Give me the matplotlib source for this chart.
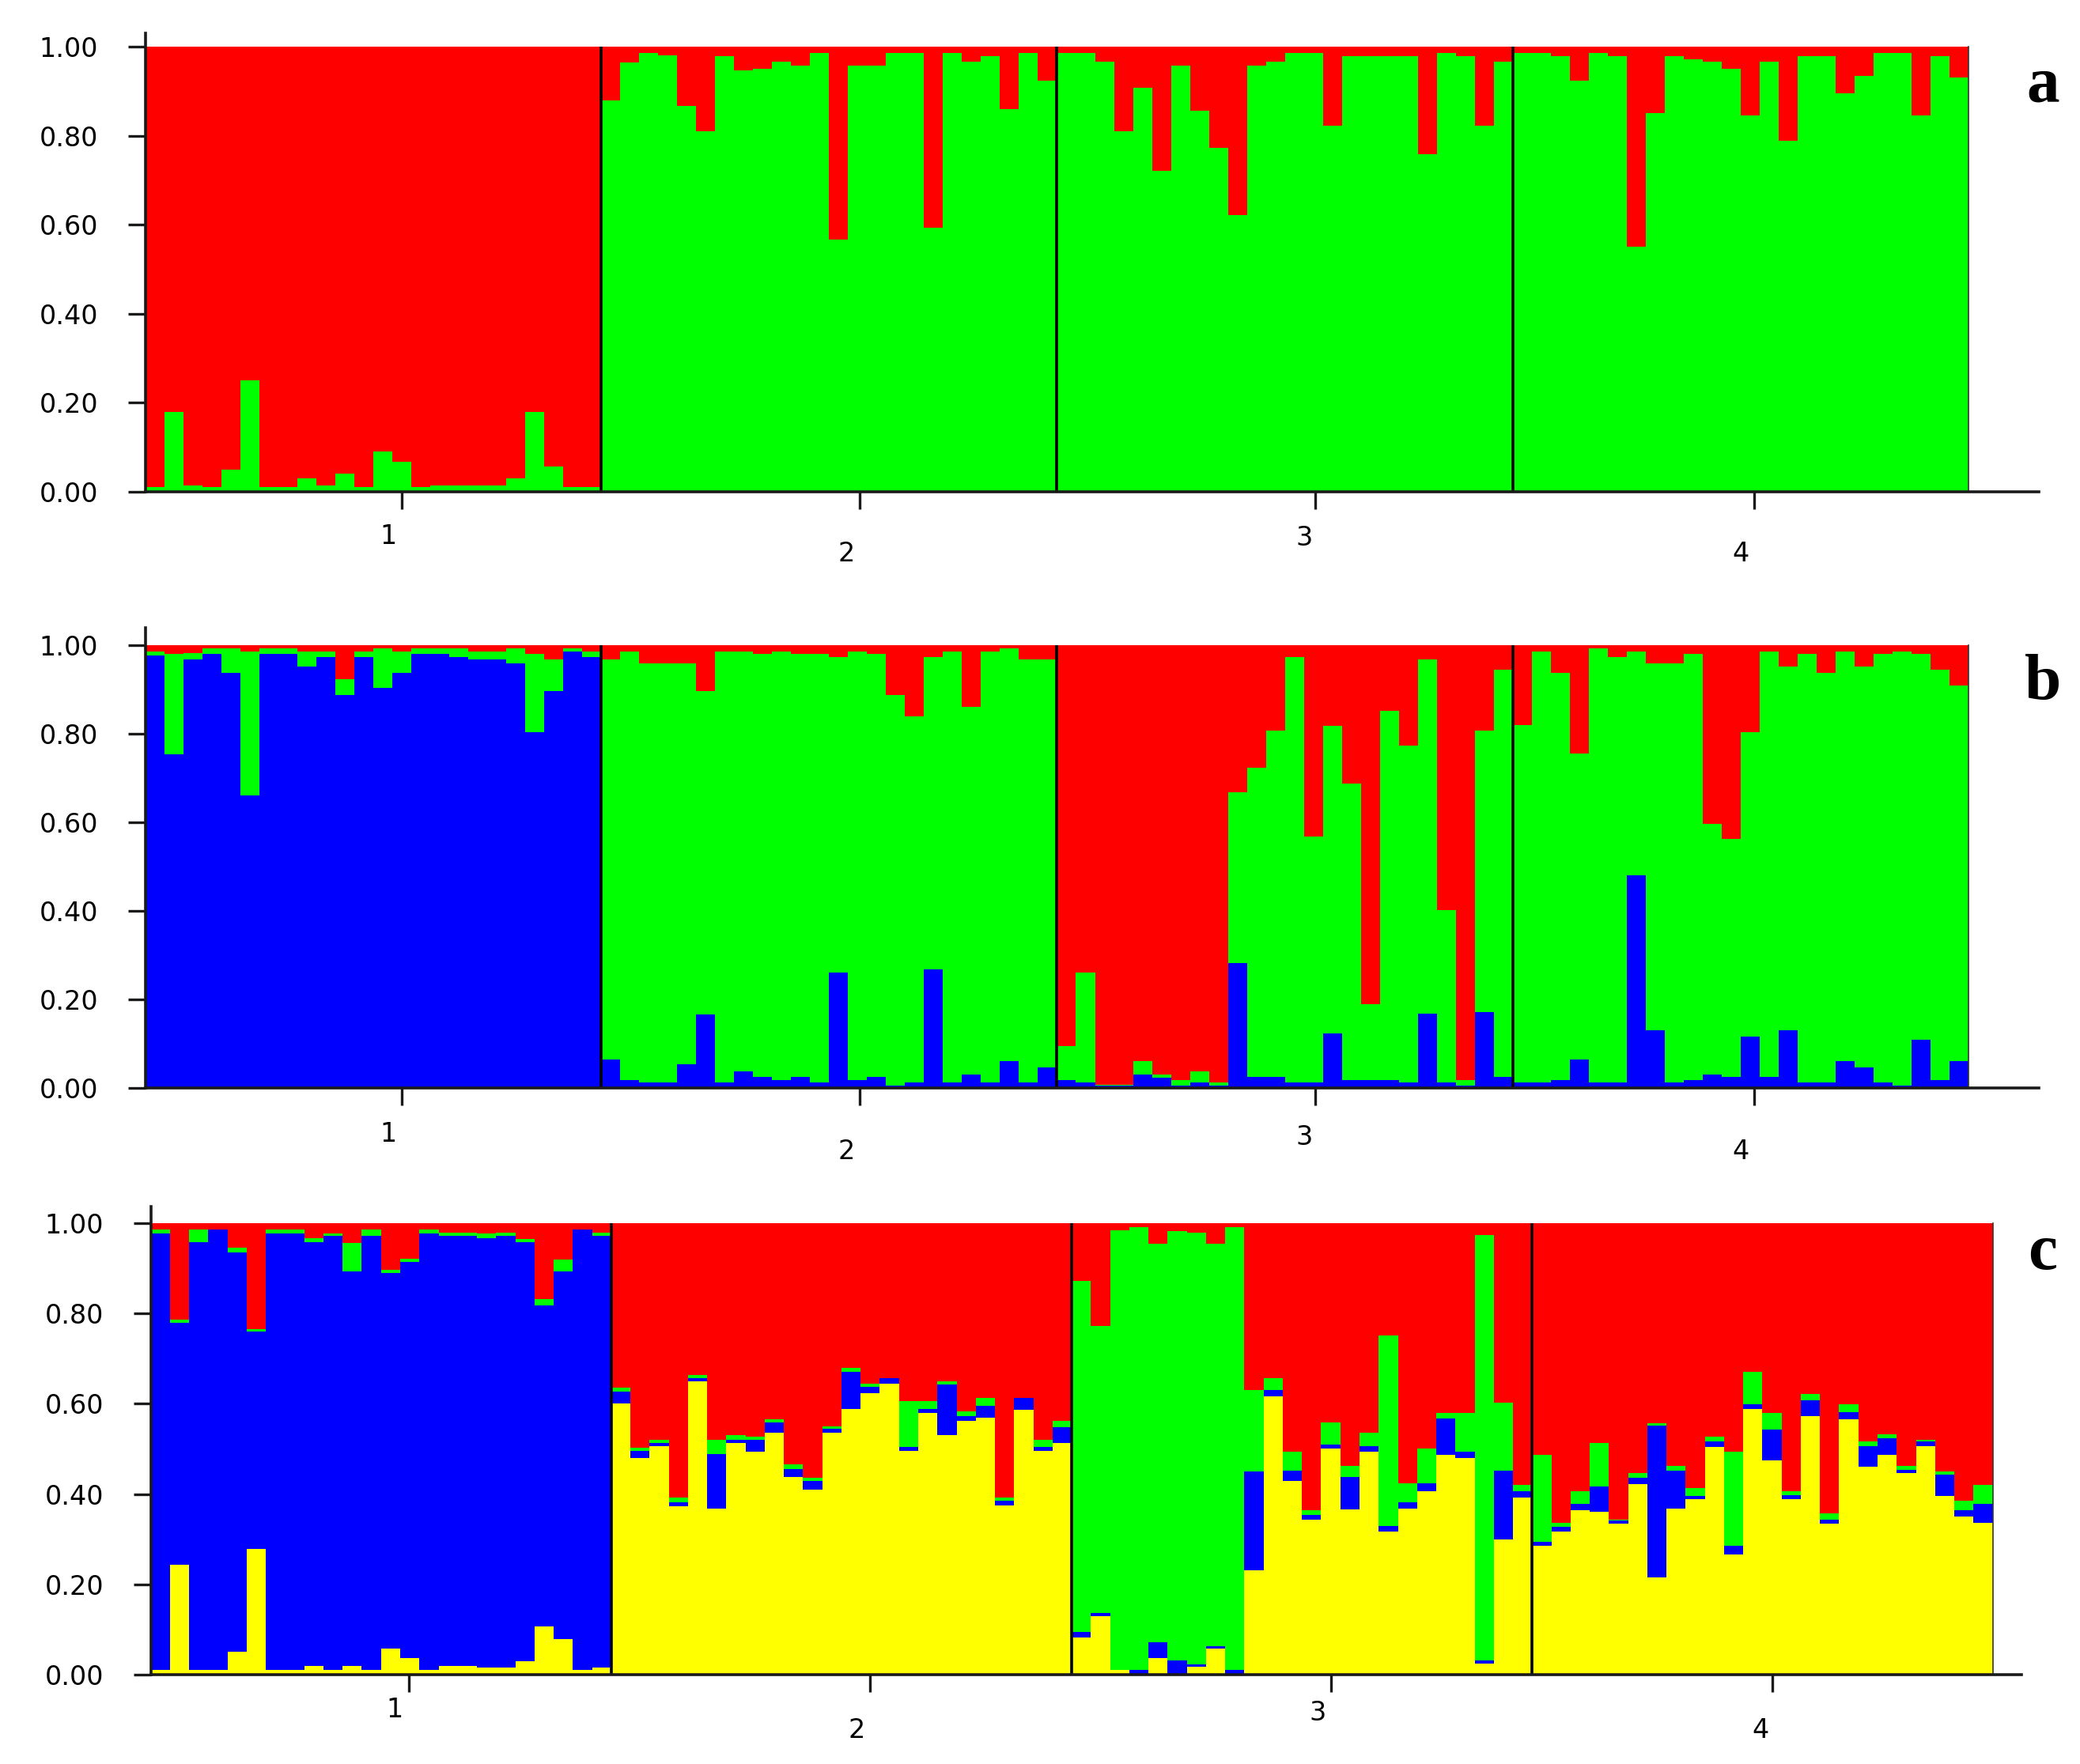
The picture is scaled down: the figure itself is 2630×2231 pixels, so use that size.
import matplotlib
matplotlib.use("Agg")
import matplotlib.pyplot as plt
import numpy as np

# ---------------- data ----------------
populations = ["1", "2", "3", "4"]
n_per_pop = 24
y_ticks = [0.0, 0.2, 0.4, 0.6, 0.8, 1.0]
y_tick_labels = ["0.00", "0.20", "0.40", "0.60", "0.80", "1.00"]
panel_letters = ["a", "b", "c"]

# Panel a (K=2): green membership (bottom); red is the remainder
a_green = [
    0.01, 0.18, 0.014, 0.01, 0.05, 0.25, 0.01, 0.01, 0.03, 0.014, 0.04, 0.01,
    0.09, 0.067, 0.01, 0.014, 0.014, 0.014, 0.014, 0.03, 0.18, 0.056, 0.01, 0.01,
    0.879, 0.965, 0.985, 0.98, 0.867, 0.81, 0.978, 0.946, 0.951, 0.966, 0.958, 0.986,
    0.566, 0.957, 0.957, 0.986, 0.986, 0.594, 0.986, 0.966, 0.978, 0.859, 0.986, 0.924,
    0.986, 0.986, 0.966, 0.81, 0.907, 0.722, 0.957, 0.857, 0.772, 0.622, 0.957, 0.966,
    0.986, 0.986, 0.823, 0.978, 0.978, 0.978, 0.978, 0.758, 0.986, 0.978, 0.823, 0.966,
    0.986, 0.986, 0.978, 0.924, 0.986, 0.978, 0.551, 0.85, 0.978, 0.971, 0.966, 0.951,
    0.845, 0.966, 0.788, 0.978, 0.978, 0.895, 0.935, 0.986, 0.986, 0.845, 0.978, 0.93,
]

# Panel b (K=3): cumulative upper bounds of blue and green; red fills to 1
b_blue_top = [
    0.977, 0.754, 0.967, 0.98, 0.938, 0.661, 0.98, 0.98, 0.952, 0.973, 0.888, 0.973,
    0.903, 0.938, 0.98, 0.98, 0.973, 0.967, 0.967, 0.959, 0.803, 0.896, 0.986, 0.973,
    0.065, 0.017, 0.012, 0.012, 0.053, 0.166, 0.012, 0.038, 0.025, 0.018, 0.025, 0.012,
    0.26, 0.018, 0.025, 0.005, 0.012, 0.267, 0.012, 0.031, 0.012, 0.06, 0.012, 0.046,
    0.017, 0.012, 0.005, 0.005, 0.031, 0.024, 0.005, 0.012, 0.005, 0.282, 0.025, 0.025,
    0.012, 0.012, 0.124, 0.017, 0.017, 0.017, 0.012, 0.168, 0.012, 0.005, 0.172, 0.025,
    0.012, 0.012, 0.017, 0.065, 0.012, 0.012, 0.48, 0.131, 0.012, 0.017, 0.031, 0.025,
    0.116, 0.025, 0.131, 0.012, 0.012, 0.06, 0.046, 0.012, 0.005, 0.109, 0.017, 0.06,
]
b_green_top = [
    0.986, 0.98, 0.983, 0.993, 0.993, 0.986, 0.993, 0.993, 0.986, 0.986, 0.923, 0.986,
    0.993, 0.986, 0.993, 0.993, 0.993, 0.986, 0.986, 0.993, 0.98, 0.967, 0.993, 0.986,
    0.967, 0.986, 0.959, 0.959, 0.959, 0.896, 0.986, 0.986, 0.98, 0.986, 0.98, 0.98,
    0.973, 0.986, 0.98, 0.888, 0.839, 0.973, 0.986, 0.86, 0.986, 0.993, 0.967, 0.967,
    0.095, 0.26, 0.008, 0.008, 0.06, 0.031, 0.017, 0.038, 0.012, 0.667, 0.723, 0.808,
    0.974, 0.567, 0.817, 0.687, 0.189, 0.852, 0.774, 0.967, 0.402, 0.017, 0.808, 0.945,
    0.819, 0.986, 0.938, 0.756, 0.993, 0.974, 0.986, 0.959, 0.959, 0.98, 0.596, 0.562,
    0.803, 0.986, 0.952, 0.98, 0.938, 0.986, 0.952, 0.98, 0.986, 0.98, 0.945, 0.909,
]

# Panel c (K=4): cumulative upper bounds of yellow, blue, green; red fills to 1
c_yellow_top = [
    0.01, 0.243, 0.01, 0.01, 0.051, 0.279, 0.01, 0.01, 0.02, 0.01, 0.02, 0.01,
    0.058, 0.036, 0.01, 0.02, 0.02, 0.015, 0.015, 0.029, 0.107, 0.078, 0.01, 0.015,
    0.601, 0.48, 0.507, 0.373, 0.649, 0.368, 0.514, 0.494, 0.536, 0.438, 0.409, 0.536,
    0.588, 0.623, 0.644, 0.495, 0.579, 0.531, 0.563, 0.569, 0.375, 0.586, 0.495, 0.514,
    0.082, 0.129, 0.01, 0.0, 0.036, 0.0, 0.017, 0.058, 0.0, 0.232, 0.616, 0.429,
    0.344, 0.501, 0.366, 0.494, 0.317, 0.368, 0.407, 0.486, 0.48, 0.024, 0.3, 0.392,
    0.286, 0.317, 0.364, 0.361, 0.334, 0.422, 0.216, 0.368, 0.388, 0.504, 0.266, 0.588,
    0.475, 0.388, 0.572, 0.334, 0.565, 0.46, 0.486, 0.446, 0.507, 0.395, 0.351, 0.337,
]
c_blue_top = [
    0.978, 0.78, 0.958, 0.986, 0.935, 0.76, 0.978, 0.978, 0.958, 0.972, 0.894, 0.972,
    0.889, 0.915, 0.978, 0.972, 0.972, 0.967, 0.972, 0.958, 0.817, 0.894, 0.986, 0.972,
    0.627, 0.495, 0.514, 0.382, 0.657, 0.488, 0.521, 0.521, 0.559, 0.456, 0.429, 0.545,
    0.671, 0.637, 0.656, 0.504, 0.589, 0.642, 0.572, 0.595, 0.385, 0.613, 0.504, 0.548,
    0.095, 0.136, 0.01, 0.01, 0.072, 0.031, 0.022, 0.063, 0.01, 0.45, 0.63, 0.452,
    0.354, 0.509, 0.438, 0.507, 0.329, 0.382, 0.423, 0.567, 0.494, 0.031, 0.452, 0.407,
    0.295, 0.327, 0.379, 0.416, 0.341, 0.436, 0.552, 0.452, 0.395, 0.516, 0.286, 0.599,
    0.543, 0.398, 0.608, 0.344, 0.581, 0.507, 0.524, 0.453, 0.516, 0.443, 0.364, 0.379,
]
c_green_top = [
    0.986, 0.787, 0.986, 0.986, 0.945, 0.766, 0.986, 0.986, 0.967, 0.978, 0.957, 0.986,
    0.896, 0.922, 0.986, 0.979, 0.979, 0.977, 0.979, 0.965, 0.831, 0.919, 0.986, 0.979,
    0.636, 0.503, 0.521, 0.392, 0.664, 0.521, 0.53, 0.528, 0.565, 0.465, 0.436, 0.55,
    0.679, 0.644, 0.656, 0.606, 0.606, 0.649, 0.584, 0.613, 0.393, 0.613, 0.521, 0.562,
    0.872, 0.773, 0.984, 0.992, 0.954, 0.983, 0.979, 0.954, 0.992, 0.63, 0.657, 0.494,
    0.364, 0.559, 0.463, 0.536, 0.751, 0.423, 0.501, 0.579, 0.579, 0.973, 0.602, 0.42,
    0.486, 0.337, 0.407, 0.514, 0.344, 0.447, 0.557, 0.463, 0.413, 0.528, 0.494, 0.671,
    0.579, 0.407, 0.622, 0.358, 0.599, 0.516, 0.533, 0.463, 0.521, 0.45, 0.385, 0.42,
]

# ---------------- style ----------------
RED, GREEN, BLUE, YELLOW = "#ff0000", "#00ff00", "#0000ff", "#ffff00"
W, H, DPI = 2630, 2231, 100
plt.rcParams["font.family"] = ["DejaVu Sans"]

fig = plt.figure(figsize=(W / DPI, H / DPI), dpi=DPI)
fig.patch.set_facecolor("white")

# layout in pixels: (x of data 0, px per individual, xmax units, y of 0, px per unit, ymax)
layouts = [
    dict(x0=184.0, ux=24.01, xmax=99.7, y0=622.0, uy=563.0, ymax=1.03,
         ticks=[13.5, 37.6, 61.6, 84.7], labx=[12.8, 36.9, 61.0, 84.0],
         laby=[57, 79, 59, 79], letter=(2583, 109)),
    dict(x0=184.0, ux=24.01, xmax=99.7, y0=1376.0, uy=560.0, ymax=1.04,
         ticks=[13.5, 37.6, 61.6, 84.7], labx=[12.8, 36.9, 61.0, 84.0],
         laby=[58, 80, 62, 80], letter=(2583, 864)),
    dict(x0=190.6, ux=24.26, xmax=97.5, y0=2118.0, uy=571.0, ymax=1.037,
         ticks=[13.45, 37.5, 61.5, 84.5], labx=[12.7, 36.8, 60.8, 83.9],
         laby=[45, 70, 48, 70], letter=(2583, 1585)),
]

n = len(populations) * n_per_pop
x = np.arange(n)


def make_axes(L):
    left = L["x0"] / W
    width = L["xmax"] * L["ux"] / W
    bottom = (H - L["y0"]) / H
    height = L["ymax"] * L["uy"] / H
    ax = fig.add_axes([left, bottom, width, height])
    ax.set_xlim(0, L["xmax"])
    ax.set_ylim(0, L["ymax"])
    return ax


def stacked(ax, layers):
    bottom = np.zeros(n)
    for top, color in layers:
        top = np.asarray(top, dtype=float)
        ax.bar(x, top - bottom, bottom=bottom, width=1.0, align="edge",
               color=color, linewidth=0, antialiased=False, zorder=1)
        bottom = top


panels = [
    [(a_green, GREEN), (np.ones(n), RED)],
    [(b_blue_top, BLUE), (b_green_top, GREEN), (np.ones(n), RED)],
    [(c_yellow_top, YELLOW), (c_blue_top, BLUE), (c_green_top, GREEN), (np.ones(n), RED)],
]

for L, layers, letter in zip(layouts, panels, panel_letters):
    ax = make_axes(L)
    stacked(ax, layers)
    # population separators
    for k in range(1, len(populations)):
        ax.plot([k * n_per_pop, k * n_per_pop], [0, 1], color="black", lw=2.6,
                zorder=3, solid_capstyle="butt")
    ax.plot([n, n], [0, 1], color="#333333", lw=1.2, zorder=3)

    for s in ["top", "right"]:
        ax.spines[s].set_visible(False)
    for s in ["left", "bottom"]:
        ax.spines[s].set_color("#1a1a1a")
        ax.spines[s].set_linewidth(2.6)
        ax.spines[s].set_zorder(4)

    ax.set_yticks(y_ticks)
    ax.set_yticklabels(y_tick_labels)
    ax.tick_params(axis="y", direction="out", length=16, width=2.4,
                   color="#1a1a1a", labelsize=24, pad=27)
    ax.set_xticks(L["ticks"])
    ax.set_xticklabels([])
    ax.tick_params(axis="x", direction="out", length=16, width=2.4, color="#1a1a1a")

    axh = L["ymax"] * L["uy"]
    for lab, lx, ly in zip(populations, L["labx"], L["laby"]):
        ax.text(lx, -ly / axh, lab, transform=ax.get_xaxis_transform(),
                ha="center", va="center", fontsize=24, color="black")

    fig.text(L["letter"][0] / W, 1 - L["letter"][1] / H, letter,
             ha="center", va="center", fontsize=60, fontweight="bold",
             family=["Liberation Serif", "DejaVu Serif"])

fig.savefig("out.png", dpi=DPI, facecolor="white")
